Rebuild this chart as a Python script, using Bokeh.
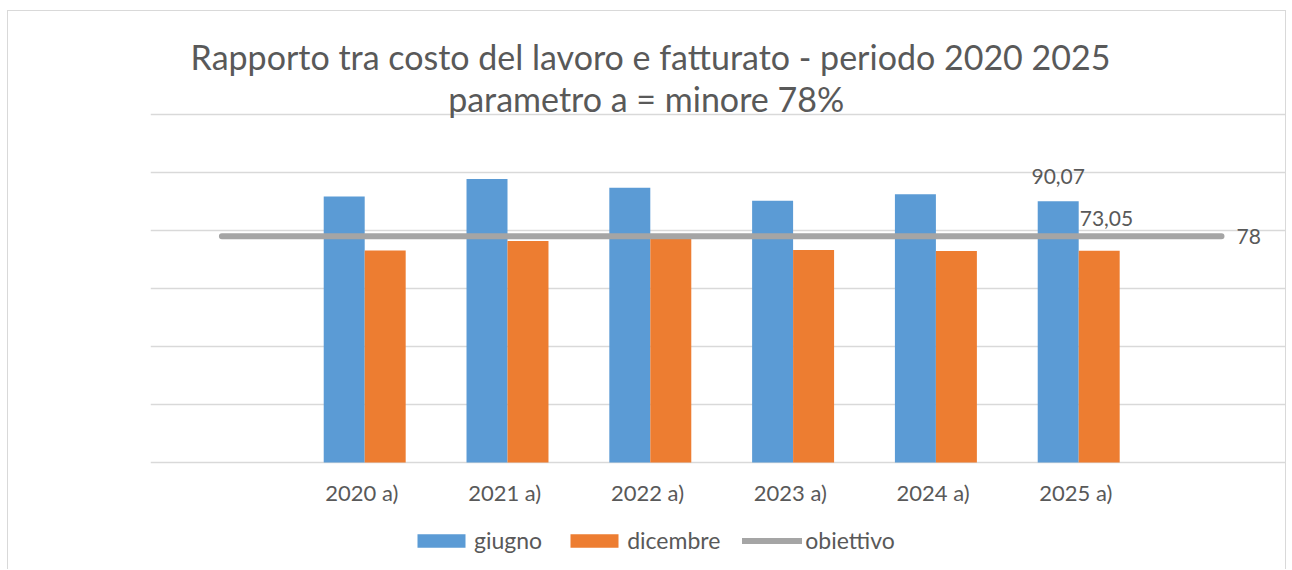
from bokeh.plotting import figure
from bokeh.models import Range1d, FixedTicker, Legend, LegendItem, Label, ColumnDataSource
from bokeh.core.properties import value
from bokeh.embed import file_html
from bokeh.resources import INLINE

# ---- data ----
categories = ["2020  a)", "2021  a)", "2022  a)", "2023  a)", "2024  a)", "2025  a)"]
giugno = [91.7, 97.8, 94.7, 90.3, 92.5, 90.07]
dicembre = [73.1, 76.4, 77.3, 73.3, 72.9, 73.05]
# objective line spans one empty slot before and after the categories
obiettivo_x_slots = [-1, 0, 1, 2, 3, 4, 5, 6]
obiettivo = [78, 78, 78, 78, 78, 78, 78, 78]
y_ticks = [0, 20, 40, 60, 80, 100, 120]
title_1 = "Rapporto tra costo del lavoro e fatturato - periodo 2020 2025"
title_2 = "parametro a =  minore 78%"

FONT = "Lato"
TXT = "#595959"
BLUE = "#5B9BD5"
ORANGE = "#ED7D31"
GREY = "#A5A5A5"
GRID = "#D9D9D9"

W, H = 1279, 559
LEFT = 142
BELOW_ZERO = 108          # pixels of the frame below the value 0
px_per_cat = 142.8
px_per_unit = 2.9
frame_w = W - LEFT

pos = list(range(len(categories)))
bar_w = 0.287

p = figure(width=W, height=H, output_backend="svg", toolbar_location=None,
           x_range=Range1d(-1.5, -1.5 + frame_w / px_per_cat),
           y_range=Range1d(-BELOW_ZERO / px_per_unit, (H - BELOW_ZERO) / px_per_unit),
           min_border_left=LEFT, min_border_right=0, min_border_top=0, min_border_bottom=0,
           background_fill_color="white", border_fill_color="white")
p.title.visible = False
p.outline_line_color = None
p.styles = {"margin-left": "7px", "margin-top": "10px",
            "border-top": "1px solid #D9D9D9", "border-left": "1px solid #D9D9D9",
            "border-right": "1px solid #D9D9D9"}

src = ColumnDataSource(dict(
    xb=[x - bar_w / 2 for x in pos], xo=[x + bar_w / 2 for x in pos],
    giugno=giugno, dicembre=dicembre, cat=categories))

r_g = p.vbar(x="xb", top="giugno", width=bar_w, source=src, fill_color=BLUE, line_color=None)
r_d = p.vbar(x="xo", top="dicembre", width=bar_w, source=src, fill_color=ORANGE, line_color=None)
r_o = p.line(obiettivo_x_slots, obiettivo, line_color=GREY, line_width=6, line_cap="round")

# data labels (last category only)
def fmt(v):
    return f"{v:.2f}".replace(".", ",")

lab_font = "21px"
p.text(x=[pos[-1] - bar_w / 2], y=[giugno[-1]], text=[fmt(giugno[-1])],
       text_align="center", text_baseline="middle", y_offset=-25,
       text_font=value(FONT), text_font_size=lab_font, text_color=TXT)
p.text(x=[pos[-1]], y=[dicembre[-1]], text=[fmt(dicembre[-1])],
       text_align="left", text_baseline="middle", x_offset=1, y_offset=-32,
       text_font=value(FONT), text_font_size=lab_font, text_color=TXT)
p.text(x=[obiettivo_x_slots[-1]], y=[obiettivo[-1]], text=[str(obiettivo[-1])],
       text_align="left", text_baseline="middle", x_offset=15,
       text_font=value(FONT), text_font_size=lab_font, text_color=TXT)

# grid (the line at 0 is the category baseline)
p.yaxis.visible = False
p.ygrid.ticker = FixedTicker(ticks=y_ticks)
p.ygrid.grid_line_color = GRID
p.ygrid.grid_line_width = 1.4
p.xgrid.visible = False

# category axis drawn inside the frame, labels just under the baseline
xa = p.xaxis[0]
xa.ticker = FixedTicker(ticks=pos)
xa.major_label_overrides = {i: c for i, c in zip(pos, categories)}
xa.fixed_location = -13.8
xa.major_label_standoff = -30
xa.axis_line_color = None
xa.major_tick_line_color = None
xa.minor_tick_line_color = None
xa.major_label_text_font = FONT
xa.major_label_text_font_size = "22px"
xa.major_label_text_color = TXT

# title (positions measured from the bottom of the frame)
for txt, yy in [(title_1, 514), (title_2, 472)]:
    p.add_layout(Label(x=500, y=yy, x_units="screen", y_units="screen", text=txt,
                       text_align="center", text_baseline="middle",
                       text_font=FONT, text_font_size="34px", text_color=TXT))

legend = Legend(items=[LegendItem(label="giugno", renderers=[r_g]),
                       LegendItem(label="dicembre", renderers=[r_d]),
                       LegendItem(label="obiettivo", renderers=[r_o])],
                orientation="horizontal", location=(261, 16),
                glyph_width=60, glyph_height=17, label_standoff=3, spacing=22,
                padding=0, margin=0, border_line_color=None, background_fill_alpha=0,
                label_text_font=FONT, label_text_font_size="23px", label_text_color=TXT)
p.add_layout(legend, "center")

open("out.html", "w").write(file_html(p, INLINE))
